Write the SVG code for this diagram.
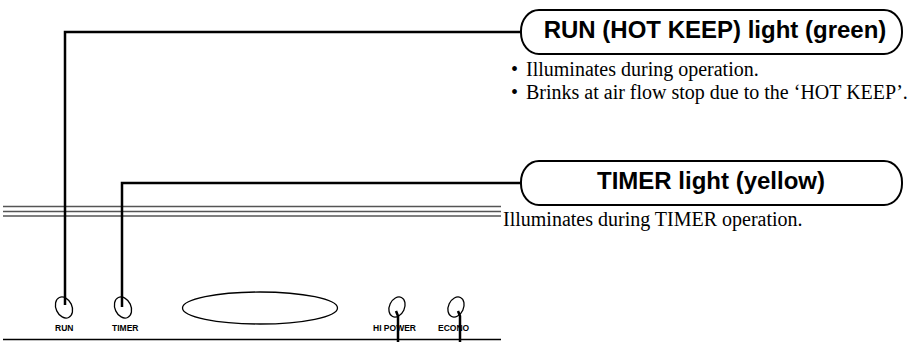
<svg xmlns="http://www.w3.org/2000/svg" width="913" height="342" viewBox="0 0 913 342">
  <style>
    .lead { fill: none; stroke: #000; stroke-width: 2.5; stroke-linejoin: miter; }
    .box { fill: #fff; stroke: #000; stroke-width: 2; }
    .title { font-family: "Liberation Sans", Arial, sans-serif; font-weight: bold; font-size: 24px; fill: #000; text-anchor: middle; }
    .body { font-family: "Liberation Serif", "Times New Roman", serif; font-size: 20px; fill: #000; }
    .rail { stroke: #555; stroke-width: 1.3; }
    .led { fill: #fff; stroke: #000; stroke-width: 1.3; }
    .tag { font-family: "Liberation Sans", Arial, sans-serif; font-weight: bold; font-size: 8.5px; fill: #000; }
  </style>

  <!-- Front panel of the unit -->
  <g id="panel">
    <line class="rail" x1="3" y1="206.5" x2="501" y2="206.5" stroke="#222"/>
    <line class="rail" x1="3" y1="211.5" x2="501" y2="211.5"/>
    <line class="rail" x1="3" y1="216" x2="501" y2="216"/>
    <line x1="3" y1="339.5" x2="501" y2="339.5" stroke="#000" stroke-width="1.3"/>
    <ellipse class="led" cx="260" cy="308" rx="77.5" ry="16"/>
  </g>

  <g id="led-run">
    <ellipse class="led" cx="64" cy="307.5" rx="8" ry="11" transform="rotate(-25 64 307.5)"/>
    <text class="tag" x="55" y="331">RUN</text>
  </g>
  <g id="led-timer">
    <ellipse class="led" cx="123" cy="307.5" rx="8" ry="11" transform="rotate(-25 123 307.5)"/>
    <text class="tag" x="112" y="331">TIMER</text>
  </g>
  <g id="led-hipower">
    <ellipse class="led" cx="397" cy="307" rx="7.5" ry="10.5" transform="rotate(25 397 307)"/>
    <text class="tag" x="373" y="331">HI POWER</text>
  </g>
  <g id="led-econo">
    <ellipse class="led" cx="456" cy="307" rx="7.5" ry="10.5" transform="rotate(25 456 307)"/>
    <text class="tag" x="438" y="331">ECONO</text>
  </g>

  <!-- Leader lines -->
  <g id="connectors">
    <polyline class="lead" points="65,305 65,32 521,32"/>
    <polyline class="lead" points="122,307 122,183 521,183"/>
    <polyline class="lead" points="396,311 398,316 398,342"/>
    <polyline class="lead" points="458,311 460,316 460,342"/>
  </g>

  <!-- Callout: RUN light -->
  <g id="callout-run">
    <rect class="box" x="521" y="10" width="381" height="44" rx="18" ry="21"/>
    <text class="title" x="715" y="38">RUN (HOT KEEP) light (green)</text>
    <text class="body" x="511" y="76">•</text>
    <text class="body" x="526" y="76">Illuminates during operation.</text>
    <text class="body" x="511" y="99">•</text>
    <text class="body" x="526" y="99">Brinks at air flow stop due to the ‘HOT KEEP’.</text>
  </g>

  <!-- Callout: TIMER light -->
  <g id="callout-timer">
    <rect class="box" x="521" y="161" width="381" height="44" rx="18" ry="21"/>
    <text class="title" x="711" y="189">TIMER light (yellow)</text>
    <text class="body" x="503" y="226">Illuminates during TIMER operation.</text>
  </g>
</svg>
